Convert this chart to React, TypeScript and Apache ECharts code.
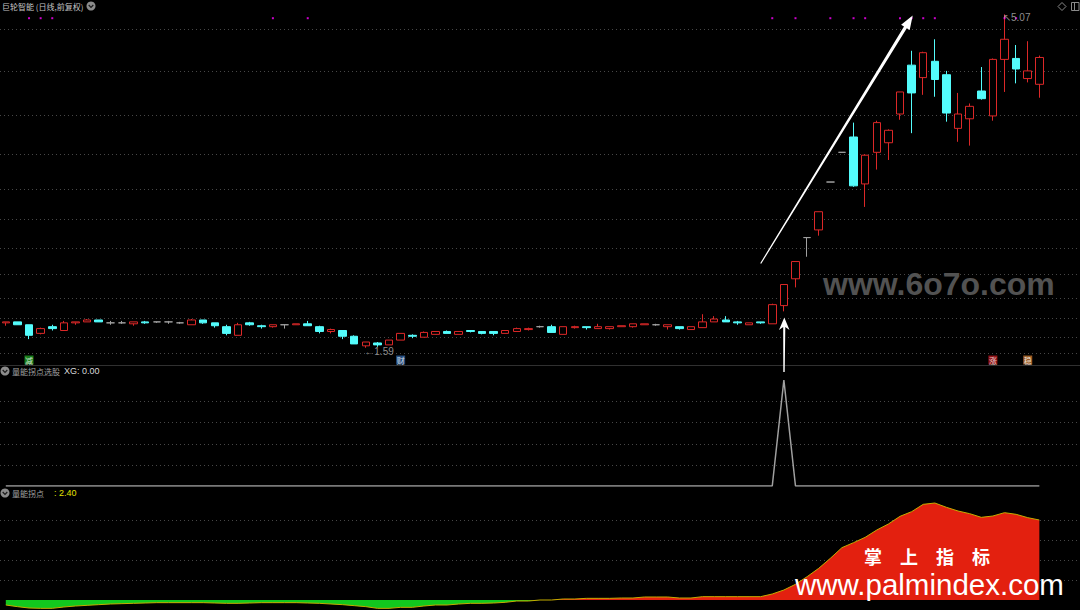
import React, { useEffect, useRef } from "react";
import * as echarts from "echarts";

// ---- data ----
const dayLabels: string[] = Array.from({ length: 93 }, (_, i) => `T${i + 1}`);

const opens = [
  1.85, 1.86, 1.83, 1.74, 1.81, 1.77, 1.85, 1.86, 1.88, 1.85,
  1.85, 1.84, 1.86, 1.86, 1.86, 1.85, 1.83, 1.88, 1.85, 1.81,
  1.72, 1.85, 1.82, 1.81, 1.83, 1.83, 1.84, 1.81, 1.76, 1.77,
  1.71, 1.61, 1.64, 1.62, 1.67, 1.72, 1.70, 1.73, 1.76, 1.73,
  1.77, 1.76, 1.76, 1.74, 1.76, 1.78, 1.81, 1.81, 1.73, 1.80,
  1.81, 1.79, 1.79, 1.81, 1.81, 1.83, 1.83, 1.81, 1.81, 1.78,
  1.80, 1.86, 1.88, 1.86, 1.83, 1.86, 1.84, 2.03, 2.31, 2.74,
  2.82, 3.32, 3.63, 3.79, 3.30, 3.63, 3.73, 4.03, 4.54, 4.41,
  4.58, 4.44, 3.88, 3.98, 4.27, 4.01, 4.60, 4.61, 4.40, 4.34,
];
const closes = [
  1.86, 1.83, 1.72, 1.79, 1.79, 1.85, 1.86, 1.88, 1.86, 1.85,
  1.85, 1.86, 1.85, 1.86, 1.86, 1.85, 1.88, 1.85, 1.82, 1.74,
  1.83, 1.83, 1.81, 1.83, 1.83, 1.84, 1.82, 1.76, 1.78, 1.71,
  1.63, 1.65, 1.62, 1.67, 1.74, 1.71, 1.75, 1.76, 1.74, 1.76,
  1.76, 1.74, 1.74, 1.77, 1.79, 1.79, 1.81, 1.75, 1.81, 1.81,
  1.80, 1.81, 1.81, 1.82, 1.84, 1.84, 1.83, 1.83, 1.79, 1.81,
  1.86, 1.89, 1.86, 1.85, 1.85, 1.85, 2.04, 2.25, 2.49, 2.74,
  3.01, 3.32, 3.63, 3.28, 3.60, 3.94, 3.86, 4.26, 4.25, 4.67,
  4.39, 4.04, 4.03, 4.11, 4.19, 4.60, 4.81, 4.50, 4.48, 4.62,
];
const lows = [
  1.82, 1.83, 1.68, 1.73, 1.77, 1.77, 1.83, 1.86, 1.86, 1.83,
  1.84, 1.82, 1.84, 1.85, 1.84, 1.84, 1.83, 1.84, 1.80, 1.72,
  1.72, 1.82, 1.79, 1.80, 1.79, 1.83, 1.82, 1.74, 1.74, 1.68,
  1.63, 1.59, 1.60, 1.62, 1.67, 1.69, 1.70, 1.73, 1.74, 1.73,
  1.75, 1.73, 1.72, 1.74, 1.76, 1.77, 1.80, 1.75, 1.73, 1.79,
  1.78, 1.79, 1.78, 1.81, 1.80, 1.83, 1.82, 1.78, 1.78, 1.78,
  1.80, 1.86, 1.86, 1.83, 1.83, 1.84, 1.84, 1.97, 2.22, 2.54,
  2.76, 3.32, 3.63, 3.27, 3.06, 3.45, 3.55, 3.97, 3.83, 4.23,
  4.21, 3.95, 3.74, 3.70, 4.18, 3.96, 4.26, 4.35, 4.36, 4.20,
];
const highs = [
  1.86, 1.86, 1.83, 1.80, 1.83, 1.87, 1.86, 1.89, 1.88, 1.87,
  1.87, 1.86, 1.87, 1.86, 1.87, 1.86, 1.89, 1.88, 1.85, 1.83,
  1.85, 1.86, 1.83, 1.83, 1.83, 1.84, 1.87, 1.82, 1.79, 1.77,
  1.72, 1.65, 1.65, 1.67, 1.74, 1.73, 1.76, 1.76, 1.77, 1.76,
  1.77, 1.76, 1.76, 1.77, 1.80, 1.80, 1.82, 1.83, 1.81, 1.82,
  1.81, 1.84, 1.81, 1.82, 1.84, 1.84, 1.84, 1.83, 1.81, 1.81,
  1.94, 1.92, 1.92, 1.87, 1.85, 1.86, 2.05, 2.25, 2.49, 2.74,
  3.01, 3.32, 3.63, 3.94, 3.61, 3.96, 3.87, 4.26, 4.69, 4.68,
  4.81, 4.48, 4.25, 4.14, 4.52, 4.61, 5.07, 4.75, 4.79, 4.64,
];

// magenta signal dots at the top of the price panel (day indices)
const signalDays = [2, 3, 4, 23, 26, 66, 68, 71, 73, 74, 77, 78, 79, 80, 86, 87];
const signalLevel = 5.03;

// small tag boxes below the candles
const tagDays = [2, 34, 85, 88];
const tagTexts = ["减", "财", "涨", "稳"];
const tagLevel = 1.462;

// dotted grid levels
const priceGridLevels = [1.54, 1.7, 1.9, 2.11, 2.36, 2.63, 2.93, 3.25, 3.61, 4.02, 4.48, 4.92];
const xgGridLevels = [0.2, 0.4, 0.6, 0.8];
const energyGridLevels = [0.6, 1.2, 1.8, 2.4];

// XG (选股) signal
const xgValues = [
  0, 0, 0, 0, 0, 0, 0, 0, 0, 0,
  0, 0, 0, 0, 0, 0, 0, 0, 0, 0,
  0, 0, 0, 0, 0, 0, 0, 0, 0, 0,
  0, 0, 0, 0, 0, 0, 0, 0, 0, 0,
  0, 0, 0, 0, 0, 0, 0, 0, 0, 0,
  0, 0, 0, 0, 0, 0, 0, 0, 0, 0,
  0, 0, 0, 0, 0, 0, 0, 1, 0, 0,
  0, 0, 0, 0, 0, 0, 0, 0, 0, 0,
  0, 0, 0, 0, 0, 0, 0, 0, 0, 0,
];

// 量能拐点 values
const energyValues = [
  -0.15, -0.2, -0.24, -0.25, -0.25, -0.21, -0.18, -0.16, -0.14, -0.12,
  -0.11, -0.1, -0.09, -0.08, -0.08, -0.08, -0.08, -0.08, -0.09, -0.1,
  -0.1, -0.09, -0.08, -0.08, -0.08, -0.08, -0.09, -0.1, -0.12, -0.14,
  -0.17, -0.2, -0.25, -0.25, -0.22, -0.22, -0.18, -0.15, -0.15, -0.12,
  -0.1, -0.1, -0.09, -0.07, -0.03, -0.03, 0.0, 0.0, 0.03, 0.03,
  0.05, 0.05, 0.05, 0.06, 0.06, 0.09, 0.09, 0.09, 0.06, 0.06,
  0.1, 0.1, 0.1, 0.1, 0.1, 0.1, 0.18, 0.3, 0.47, 0.7,
  0.95, 1.25, 1.57, 1.72, 1.88, 2.1, 2.28, 2.51, 2.65, 2.87,
  2.91, 2.78, 2.67, 2.59, 2.48, 2.52, 2.62, 2.57, 2.47, 2.4,
];

// ---- styles / layout ----
const CJK = '"Noto Sans CJK SC", "Noto Sans", sans-serif';
const LATIN = '"Liberation Sans", Arial, sans-serif';
const RED = "#dc2828";
const CYAN = "#54fcfc";
const DOJI = "#a0a0a0";
const GRID_DOT = "#474747";
const AREA_UP = "#e3200f";
const AREA_DOWN = "#12c81e";
const tagColors = ["#1e9e22", "#2d5f9c", "#b5161a", "#c0702c"];

function gridLineSeries(axisIndex: number, levels: number[]) {
  return {
    type: "custom",
    xAxisIndex: axisIndex,
    yAxisIndex: axisIndex,
    silent: true,
    z: 1,
    data: levels.map((v) => [0, v]),
    renderItem: (params: any, api: any) => {
      const y = Math.round(api.coord([0, api.value(1)])[1]) + 0.5;
      const cs = params.coordSys;
      return {
        type: "line",
        shape: { x1: cs.x, y1: y, x2: cs.x + cs.width, y2: y },
        style: { stroke: GRID_DOT, lineWidth: 1, lineDash: [1, 3] },
      };
    },
  };
}

function buildOption() {
  const candles = opens.map((o, i) => [o, closes[i], lows[i], highs[i]]);
  const energyUp = energyValues.map((v) => Math.max(v, 0));
  const energyDown = energyValues.map((v) => Math.min(v, 0));
  const lowMin = Math.min(...lows);
  const highMax = Math.max(...highs);
  const lowIdx = lows.indexOf(lowMin);
  const highIdx = highs.indexOf(highMax);
  const lastXg = xgValues[xgValues.length - 1];
  const lastEnergy = energyValues[energyValues.length - 1];

  const icon = (cx: number, cy: number) => ({
    type: "group",
    z: 100,
    children: [
      { type: "circle", shape: { cx, cy, r: 4.5 }, style: { fill: "#8c8c8c" } },
      {
        type: "polyline",
        shape: { points: [[cx - 2.3, cy - 1], [cx, cy + 1.4], [cx + 2.3, cy - 1]] },
        style: { stroke: "#1a1a1a", lineWidth: 1.2, fill: "none" },
      },
    ],
  });

  const hiddenY = (g: number, min: number, max: number) => ({
    type: "value",
    gridIndex: g,
    min,
    max,
    show: false,
    splitLine: { show: false },
  });

  const areaSeries = (data: number[], color: string) => ({
    type: "line",
    xAxisIndex: 2,
    yAxisIndex: 2,
    data,
    symbol: "none",
    lineStyle: { width: 0 },
    areaStyle: { opacity: 1, color },
    z: 2,
  });

  return {
    animation: false,
    backgroundColor: "#000",
    grid: [
      { left: 0, width: 1080, top: 0, height: 365 },
      { left: 0, width: 1080, top: 380, height: 106 },
      { left: 0, width: 1080, top: 500, height: 110 },
    ],
    xAxis: [0, 1, 2].map((g) => ({
      type: "category",
      gridIndex: g,
      data: dayLabels,
      boundaryGap: true,
      show: false,
    })),
    yAxis: [hiddenY(0, 1.41, 5.22), hiddenY(1, 0, 1), hiddenY(2, -0.3, 3.0)],
    series: [
      gridLineSeries(0, priceGridLevels),
      gridLineSeries(1, xgGridLevels),
      gridLineSeries(2, energyGridLevels),
      {
        type: "candlestick",
        xAxisIndex: 0,
        yAxisIndex: 0,
        data: candles,
        barWidth: 8,
        z: 3,
        itemStyle: {
          color: "#000",
          color0: CYAN,
          borderColor: RED,
          borderColor0: CYAN,
          borderColorDoji: DOJI,
          borderWidth: 1,
        },
      },
      {
        type: "scatter",
        xAxisIndex: 0,
        yAxisIndex: 0,
        symbol: "rect",
        symbolSize: 2,
        itemStyle: { color: "#ff00ff" },
        data: signalDays.map((d) => [d, signalLevel]),
        z: 4,
      },
      {
        type: "scatter",
        xAxisIndex: 0,
        yAxisIndex: 0,
        symbol: "rect",
        symbolSize: [9, 9],
        z: 4,
        data: tagDays.map((d, i) => ({
          value: [d, tagLevel],
          itemStyle: { color: tagColors[i] },
          label: { formatter: tagTexts[i] },
        })),
        label: {
          show: true,
          position: "inside",
          color: "#fff",
          fontSize: 8,
          fontFamily: CJK,
        },
      },
      {
        type: "scatter",
        xAxisIndex: 0,
        yAxisIndex: 0,
        symbolSize: 1,
        itemStyle: { color: "rgba(0,0,0,0)" },
        z: 5,
        data: [
          { value: [lowIdx, lowMin], label: { formatter: `←${lowMin.toFixed(2)}` } },
          { value: [highIdx, highMax], label: { formatter: `↖${highMax.toFixed(2)}` } },
        ],
        label: {
          show: true,
          position: [-1, 4],
          color: "#b4b4b4",
          fontSize: 10,
          fontFamily: LATIN,
          align: "left",
          verticalAlign: "middle",
        },
      },
      {
        type: "line",
        xAxisIndex: 1,
        yAxisIndex: 1,
        data: xgValues,
        symbol: "none",
        lineStyle: { color: "#a0a0a0", width: 1.5 },
        z: 3,
      },
      areaSeries(energyUp, AREA_UP),
      areaSeries(energyDown, AREA_DOWN),
      {
        type: "line",
        xAxisIndex: 2,
        yAxisIndex: 2,
        data: energyValues,
        symbol: "none",
        lineStyle: { color: "#c4ac00", width: 1 },
        z: 3,
      },
    ],
    graphic: [
      { type: "line", z: 50, shape: { x1: 0, y1: 365.5, x2: 1080, y2: 365.5 }, style: { stroke: "#303030", lineWidth: 1 } },
      {
        type: "text",
        z: 100,
        x: 2,
        y: 6,
        style: { text: "巨轮智能 (日线,前复权)", fill: "#c4c4c4", fontSize: 8, fontFamily: CJK, verticalAlign: "middle" },
      },
      icon(91, 6),
      icon(5, 371),
      {
        type: "text",
        z: 100,
        x: 12,
        y: 371,
        style: { text: "量能拐点选股", fill: "#a0a0a0", fontSize: 8, fontFamily: CJK, verticalAlign: "middle" },
      },
      {
        type: "text",
        z: 100,
        x: 64,
        y: 371,
        style: { text: `XG: ${lastXg.toFixed(2)}`, fill: "#d8d8d8", fontSize: 9, fontFamily: LATIN, verticalAlign: "middle" },
      },
      icon(5, 493),
      {
        type: "text",
        z: 100,
        x: 12,
        y: 493,
        style: { text: "量能拐点", fill: "#a0a0a0", fontSize: 8, fontFamily: CJK, verticalAlign: "middle" },
      },
      {
        type: "text",
        z: 100,
        x: 54,
        y: 493,
        style: { text: `: ${lastEnergy.toFixed(2)}`, fill: "#e0e000", fontSize: 9, fontFamily: LATIN, verticalAlign: "middle" },
      },
      {
        type: "polygon",
        z: 100,
        shape: { points: [[1062, 2.5], [1066, 6.5], [1062, 10.5], [1058, 6.5]] },
        style: { stroke: "#8a8a8a", fill: "none", lineWidth: 1 },
      },
      { type: "rect", z: 100, shape: { x: 1071.5, y: 2.5, width: 7.5, height: 8 }, style: { stroke: "#8a8a8a", fill: "none", lineWidth: 1 } },
      { type: "line", z: 100, shape: { x1: 1074.5, y1: 2.5, x2: 1074.5, y2: 10.5 }, style: { stroke: "#8a8a8a", lineWidth: 1 } },
      {
        type: "text",
        z: 90,
        x: 823,
        y: 284,
        style: {
          text: "www.6o7o.com",
          fill: "#525252",
          fontSize: 32,
          fontWeight: "bold",
          fontFamily: LATIN,
          verticalAlign: "middle",
        },
      },
      {
        type: "text",
        z: 100,
        x: 864,
        y: 556,
        style: {
          text: "掌\u3000上\u3000指\u3000标",
          fill: "#ffffff",
          fontSize: 18,
          fontWeight: "bold",
          fontFamily: CJK,
          verticalAlign: "middle",
        },
      },
      {
        type: "text",
        z: 100,
        x: 795,
        y: 584,
        style: {
          text: "www.palmindex.com",
          fill: "#ffffff",
          fontSize: 29.5,
          fontFamily: LATIN,
          verticalAlign: "middle",
        },
      },
      {
        type: "polygon",
        z: 95,
        shape: {
          points: [
            [760.2, 263.2],
            [904.0, 26.6],
            [901.1, 24.8],
            [912.7, 15.5],
            [909.7, 30.0],
            [906.8, 28.2],
            [761.2, 263.8],
          ],
        },
        style: { fill: "#ffffff" },
      },
      {
        type: "polygon",
        z: 95,
        shape: {
          points: [
            [783.3, 372],
            [783.2, 327],
            [779, 330],
            [784.3, 317.5],
            [789.5, 330],
            [785.3, 327],
            [784.7, 372],
          ],
        },
        style: { fill: "#ffffff" },
      },
    ],
  };
}

export default function App() {
  const ref = useRef<HTMLDivElement>(null);
  useEffect(() => {
    if (!ref.current) return;
    const chart = echarts.init(ref.current, null, { renderer: "svg" });
    chart.setOption(buildOption() as any);
    return () => chart.dispose();
  }, []);
  return (
    <div
      ref={ref}
      style={{ position: "fixed", left: 0, top: 0, width: 1080, height: 610, background: "#000" }}
    />
  );
}
